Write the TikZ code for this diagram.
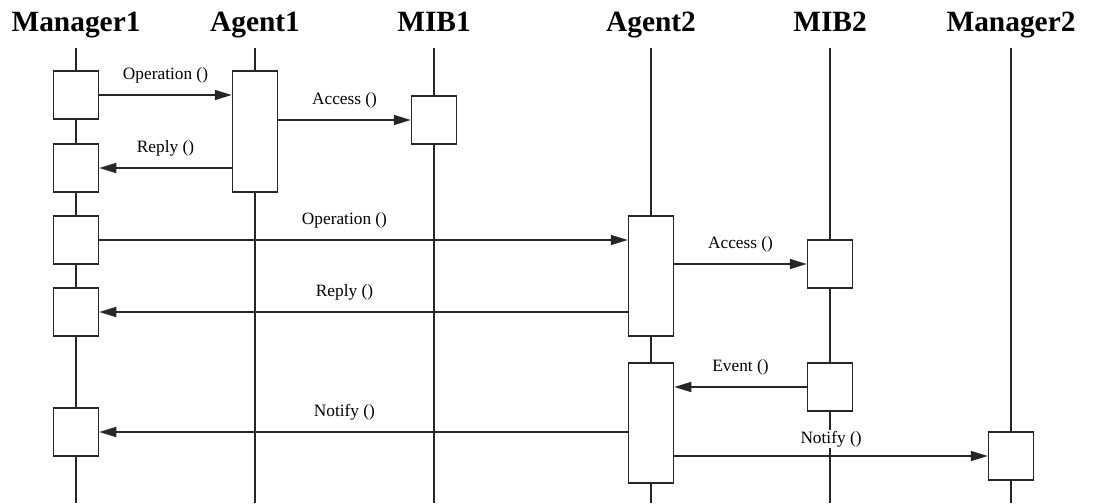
\documentclass[tikz,border=0pt]{standalone}
\usepackage{fontspec}
\setmainfont{Liberation Serif}
\usetikzlibrary{arrows.meta, calc}

\definecolor{inkgray}{HTML}{262626}

\begin{document}
\begin{tikzpicture}[
    x=1pt, y=-1pt,
    line width=1.5pt, draw=inkgray,
    >={Triangle[length=17pt, width=10pt]},
    head/.style ={font=\fontsize{29.4}{30}\selectfont\bfseries, anchor=base, inner sep=0pt},
    life/.style ={draw=inkgray, line width=1.5pt},
    act/.style  ={rectangle, draw=inkgray, fill=white, line width=1.5pt, inner sep=0pt,
                  minimum width=45pt, minimum height=48pt},
    actl/.style ={act, minimum height=120pt},
    msg/.style  ={->, draw=inkgray, line width=1.5pt},
    lbl/.style  ={font=\fontsize{17.3}{18}\selectfont, anchor=base, inner sep=1pt, yshift=16pt},
]
\useasboundingbox (0,0) rectangle (1118,503);

% ---- Headers and lifelines ----
\foreach \n/\x/\t in {m1/76/Manager1, a1/255/Agent1, b1/434/MIB1,
                      a2/651/Agent2, b2/830/MIB2, m2/1011/Manager2} {
   \node[head] (h\n) at (\x,32) {\t};
   \coordinate (\n top) at (\x,48);
   \coordinate (\n bot) at (\x,503);
   \draw[life] (\n top) -- (\n bot);
}

% ---- Activation boxes ----
\node[act] (m1a) at (76,95)  {};
\node[act] (m1b) at (76,168) {};
\node[act] (m1c) at (76,240) {};
\node[act] (m1d) at (76,312) {};
\node[act] (m1e) at (76,432) {};

\node[act, minimum height=121pt] (a1) at (255,131.5) {};
\node[act] (b1) at (434,120) {};

\node[actl] (a2a) at (651,276) {};
\node[actl] (a2b) at (651,423) {};

\node[act] (b2a) at (830,264) {};
\node[act] (b2b) at (830,387) {};

\node[act] (m2a) at (1011,456) {};

% ---- Messages ----
\draw[msg] (m1a.east) -- node[lbl] {Operation ()} (m1a.east -| a1.west);
\draw[msg] (b1.west -| a1.east) -- node[lbl] {Access ()} (b1.west);
\draw[msg] (m1b.east -| a1.west) -- node[lbl] {Reply ()} (m1b.east);

\draw[msg] (m1c.east) -- node[lbl, pos=0.464] {Operation ()} (m1c.east -| a2a.west);
\draw[msg] (b2a.west -| a2a.east) -- node[lbl] {Access ()} (b2a.west);
\draw[msg] (m1d.east -| a2a.west) -- node[lbl, pos=0.536] {Reply ()} (m1d.east);

\draw[msg] (b2b.west) -- node[lbl] {Event ()} (b2b.west -| a2b.east);
\draw[msg] (m1e.east -| a2b.west) -- node[lbl, pos=0.536] {Notify ()} (m1e.east);
\draw[msg] (m2a.west -| a2b.east) -- node[lbl, fill=white, yshift=-3pt] {Notify ()} (m2a.west);

\end{tikzpicture}
\end{document}
